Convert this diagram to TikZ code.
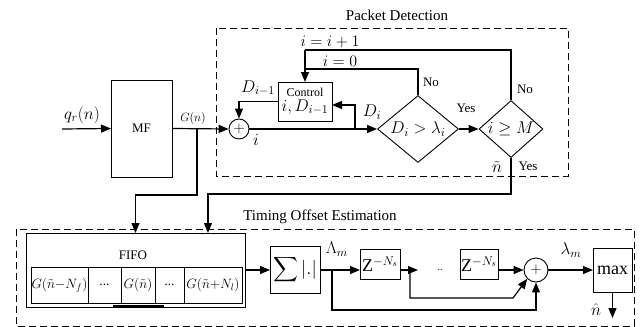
\RequirePackage{fix-cm}
\documentclass[tikz,border=0pt]{standalone}
\usepackage{amsmath}
\usepackage{fontspec}
\setmainfont{Liberation Serif}
\usetikzlibrary{positioning,shapes.geometric,arrows.meta}

\begin{document}
\begin{tikzpicture}[
    x=1pt, y=-1pt,
    blk/.style={draw, line width=0.9pt, inner sep=1pt, outer sep=0pt},
    dec/.style={diamond, draw, line width=0.9pt, inner sep=0pt, aspect=1.2},
    add/.style={circle, draw, line width=0.9pt, inner sep=0pt, font=\fontsize{15}{16}\selectfont},
    grp/.style={draw, line width=0.8pt, dash pattern=on 7pt off 4pt},
    sig/.style={-{Triangle[length=10pt,width=8pt]}, line width=1.2pt},
    wire/.style={line width=1.2pt},
    cell/.style={blk, minimum height=36pt, inner sep=0pt, font=\fontsize{13.5}{15}\selectfont},
    txt/.style={font=\fontsize{13}{15}\selectfont, inner sep=1pt},
    ttl/.style={font=\fontsize{15}{17}\selectfont, inner sep=1pt},
    mth/.style={font=\fontsize{17}{19}\selectfont, inner sep=1pt}
]
    \useasboundingbox (0,0) rectangle (641,327);

    % Packet detection
    \draw[grp] (216,28) rectangle (568,176);
    \node[ttl] (pdname) at (397,15) {Packet Detection};

    \node[blk, txt, minimum width=61pt, minimum height=97pt] (mf) at (141.5,128.5) {MF};
    \node[add, minimum size=20pt] (add1) at (239,129) {$+$};
    \node[blk, minimum width=54pt, minimum height=39pt, align=center, inner sep=0pt] (ctrl) at (305,101.5)
        {\fontsize{12}{13}\selectfont Control\\[3pt] \fontsize{17}{18}\selectfont $i,D_{i-1}$};
    \node[mth, dec, minimum width=81pt, minimum height=67pt] (d1) at (418,129) {$D_i>\lambda_i$};
    \node[mth, dec, minimum width=64pt, minimum height=57pt] (d2) at (511,129) {$i\geq M$};

    \coordinate (qin) at (62,129);
    \coordinate (gtap) at (197,129);
    \coordinate (dtap) at (355,129);
    \coordinate (cin) at (332,105);
    \coordinate (ctop) at (305,50);
    \coordinate (cmid) at (305,69);

    \draw[sig] (qin) -- (mf.west);
    \draw[sig] (mf.east) -- (add1.west);
    \draw[sig] (add1.east) -- (d1.west);
    \draw[sig] (dtap) |- (cin);
    \draw[sig] (ctrl.west) -| (add1.north);
    \draw[sig] (d1.east) -- (d2.west);
    \draw[wire] (d2.north) |- (ctop);
    \draw[sig] (ctop) -- (ctrl.north);
    \draw[wire] (d1.north) |- (cmid);

    % Names
    \node[mth] (qname) at (82,115) {$q_r(n)$};
    \node[font=\fontsize{12}{14}\selectfont] (gname) at (193,118) {$G(n)$};
    \node[mth] (dprev) at (258,88) {$D_{i-1}$};
    \node[mth] (iname) at (256,140) {$i$};
    \node[mth] (dname) at (372,112) {$D_i$};
    \node[mth, font=\fontsize{16}{18}\selectfont] (incname) at (330,42) {$i=i+1$};
    \node[mth, font=\fontsize{16}{18}\selectfont] (rstname) at (340,61) {$i=0$};
    \node[txt] (no1) at (431,82) {No};
    \node[txt] (no2) at (525,89) {No};
    \node[txt] (yes1) at (466,108) {Yes};
    \node[txt] (yes2) at (528,166) {Yes};
    \node[mth] (ntil) at (497,167) {$\tilde{n}$};

    % Timing offset estimation
    \draw[grp] (16,229) rectangle (634,326);
    \node[ttl] (toname) at (320,217) {Timing Offset Estimation};

    \node[blk, minimum width=219pt, minimum height=74pt] (fifo) at (135.5,270) {};
    \node[txt] (fifoname) at (133,255) {FIFO};
    \node[cell, minimum width=57pt] (c1) at (59.5,285) {$G(\tilde{n}{-}N_f)$};
    \node[cell, minimum width=33pt, right=0pt of c1] (c2) {...};
    \node[cell, minimum width=34pt, right=0pt of c2] (c3) {$G(\tilde{n})$};
    \node[cell, minimum width=29pt, right=0pt of c3] (c4) {...};
    \node[cell, minimum width=58pt, right=0pt of c4] (c5) {$G(\tilde{n}{+}N_l)$};
    \draw[line width=2pt] (113,306) -- (164,306);

    \coordinate (fin) at (208,233);
    \draw[sig] (gtap) -- ++(0,66) -| (fifo.north);
    \draw[sig] (d2.south) -- ++(0,36) -| (fin);

    \node[blk, minimum width=50pt, minimum height=47pt, font=\fontsize{19}{21}\selectfont] (sum) at (295,270) {$\displaystyle\sum|.|$};
    \node[blk, minimum width=40pt, minimum height=30pt, font=\fontsize{18}{20}\selectfont] (z1) at (380,264) {$\mathrm{Z}^{-N_s}$};
    \node (zdots) at (440,270) {..};
    \node[blk, minimum width=36pt, minimum height=30pt, font=\fontsize{18}{20}\selectfont] (z2) at (479,264) {$\mathrm{Z}^{-N_s}$};
    \node[add, minimum size=24pt] (add2) at (536,270) {$+$};
    \node[blk, minimum width=39pt, minimum height=44pt, font=\fontsize{18}{20}\selectfont] (max) at (612.5,270) {max};

    \coordinate (ltap) at (332,270);
    \coordinate (ztap) at (410,270);
    \coordinate (zout) at (418,270);
    \coordinate (zk) at (513,298);
    \coordinate (lk) at (536,310);
    \coordinate (nout) at (612.5,318);

    \draw[sig] (fifo.east) -- (sum.west);
    \draw[sig] (sum.east) -- (z1.west |- sum.east);
    \draw[sig] (z1.east |- sum.east) -- (zout);
    \draw[sig] (z2.east |- add2.west) -- (add2.west);
    \draw[sig] (ztap) |- (zk) -- (add2.south west);
    \draw[sig] (ltap) |- (lk) -- (add2.south);
    \draw[sig] (add2.east) -- (max.west);
    \draw[sig] (max.south) -- (nout);

    \node[mth] (lamname) at (337,249) {$\Lambda_m$};
    \node[mth] (lamname2) at (571,250) {$\lambda_m$};
    \node[mth] (nhat) at (596,310) {$\hat{n}$};
\end{tikzpicture}
\end{document}
